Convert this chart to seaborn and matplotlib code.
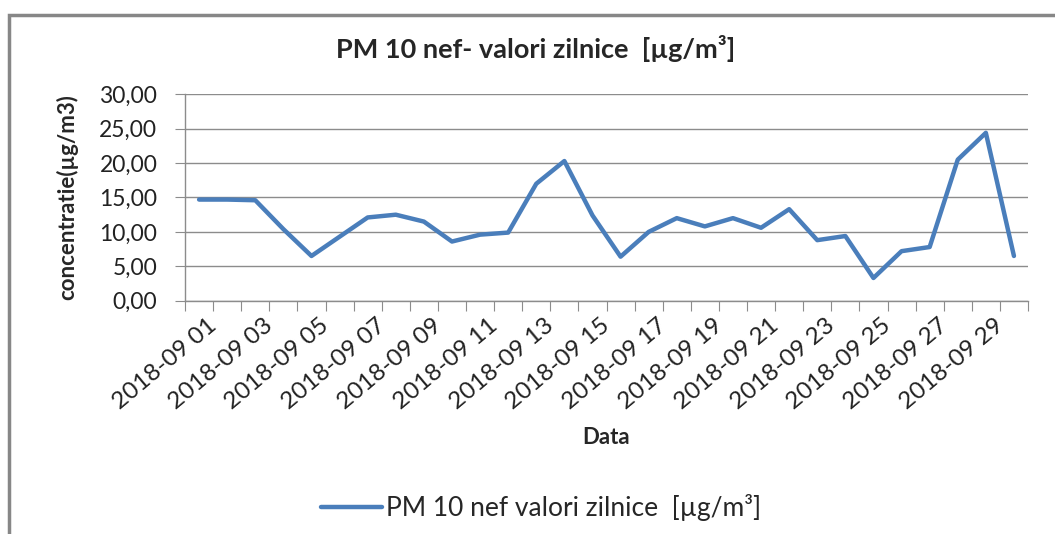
import numpy as np
import pandas as pd
import matplotlib
matplotlib.use('Agg')
import matplotlib.pyplot as plt
import matplotlib.transforms as mtransforms
import seaborn as sns
from matplotlib.patches import Rectangle

# date (zile) si valori PM10
zile = [f'2018-09 {d:02d}' for d in range(1, 31)]
valori = [14.7, 14.7, 14.6, 10.4, 6.5, 9.3, 12.1, 12.5, 11.5, 8.6,
          9.6, 9.9, 17.0, 20.3, 12.4, 6.4, 10.0, 12.0, 10.8, 12.0,
          10.6, 13.3, 8.8, 9.4, 3.3, 7.2, 7.8, 20.5, 24.4, 6.5]
yticks = [0, 5, 10, 15, 20, 25, 30]
ytick_labels = ['0,00', '5,00', '10,00', '15,00', '20,00', '25,00', '30,00']

titlu = 'PM 10 nef- valori zilnice  [µg/m³]'
serie = 'PM 10 nef valori zilnice  [µg/m³]'

df = pd.DataFrame({'zi': np.arange(len(zile)), 'valoare': valori})

sns.set_style('white')
plt.rcParams['font.family'] = ['Lato', 'DejaVu Sans']

fig = plt.figure(figsize=(10.55, 5.34), dpi=100)
ax = fig.add_axes([0.1754, 0.4369, 0.7990, 0.3865])

sns.lineplot(data=df, x='zi', y='valoare', ax=ax, color='#4a7ebb', linewidth=3.2,
             label=serie)

ax.set_xlim(-0.5, len(zile) - 0.5)
ax.set_ylim(0, 30)
ax.set_yticks(yticks)
ax.set_yticklabels(ytick_labels, fontsize=16.5, color='#222222')
ax.yaxis.grid(True, color='#8c8c8c', linewidth=1)
ax.set_axisbelow(True)

# ticks intre categorii, etichete la fiecare a doua zi
ax.set_xticks(np.arange(len(zile) + 1) - 0.5)
ax.set_xticklabels([])
ax.set_xticks(np.arange(0, len(zile), 2), minor=True)
ax.set_xticklabels(zile[::2], minor=True, rotation=40, ha='right', va='top',
                   rotation_mode='anchor', fontsize=17.5, color='#222222')
ax.tick_params(axis='x', which='major', length=7, color='#8c8c8c', direction='out', bottom=True)
ax.tick_params(axis='x', which='minor', length=0, pad=10)
ax.tick_params(axis='y', length=7, color='#8c8c8c', direction='out', left=True, pad=13)

# mic decalaj spre dreapta al etichetelor rotite
offset = mtransforms.ScaledTranslation(8 / 100, 0, fig.dpi_scale_trans)
for lbl in ax.get_xticklabels(minor=True):
    lbl.set_transform(lbl.get_transform() + offset)

for s in ['top', 'right']:
    ax.spines[s].set_visible(False)
for s in ['left', 'bottom']:
    ax.spines[s].set_color('#8c8c8c')
    ax.spines[s].set_linewidth(1)

ax.set_xlabel('Data', fontsize=16, fontweight='bold')
ax.set_ylabel('concentratie(µg/m3)', fontsize=16, fontweight='bold')
ax.xaxis.set_label_coords(0.5, -0.612)
ax.yaxis.set_label_coords(-0.127, 0.5)

fig.text(0.508, 0.910, titlu, ha='center', va='center', fontsize=19.5, fontweight='bold')

ax.legend(loc='center', bbox_to_anchor=(0.513, 0.049), bbox_transform=fig.transFigure,
          frameon=False, fontsize=19, handlelength=2.3, handletextpad=0.15)

fig.patches.append(Rectangle((9 / 1055, -0.1), 1.2, 1.1 - 15 / 534,
                             transform=fig.transFigure, fill=False,
                             edgecolor='#878787', linewidth=2.5, zorder=0))

fig.savefig('out.png', dpi=100)
